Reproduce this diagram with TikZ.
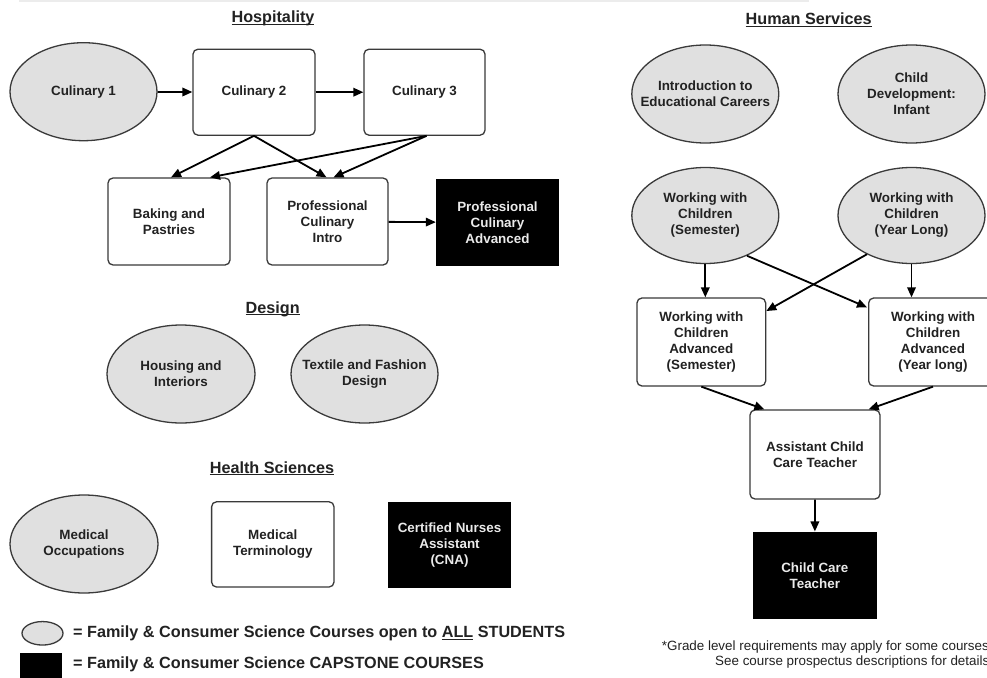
\documentclass[tikz,border=0pt]{standalone}
\usepackage{fontspec}
\setmainfont{Liberation Sans}
\usetikzlibrary{shapes.geometric,arrows.meta,calc}
\definecolor{edgecol}{HTML}{3A3A3A}
\definecolor{ellfill}{HTML}{E0E0E0}
\definecolor{txt}{HTML}{222222}
\definecolor{captxt}{HTML}{EAEAEA}
\newcommand\nodefont{\fontsize{13.4}{16}\selectfont\bfseries}
\newcommand\hdrfont{\fontsize{16.2}{19}\selectfont\bfseries}
\newcommand\footfont{\fontsize{13.4}{15}\selectfont}
\newcommand\ulx[1]{\underline{\smash{#1}}}
\begin{document}
\begin{tikzpicture}[x=1pt,y=-1pt,
 course/.style={ellipse, draw=edgecol, line width=1.3pt, fill=ellfill, inner sep=0pt},
 lbl/.style={font=\nodefont, text=txt, align=center, inner sep=0pt},
 box/.style={rectangle, rounded corners=5pt, draw=edgecol, line width=1.3pt, fill=white, font=\nodefont, text=txt, align=center, inner sep=0pt},
 capbox/.style={rectangle, fill=black, font=\nodefont, text=captxt, align=center, inner sep=0pt},
 hdr/.style={font=\hdrfont, text=txt, inner sep=0pt},
 legtxt/.style={font=\hdrfont, text=txt, anchor=west, inner sep=0pt},
 foot/.style={font=\footfont, text=txt, anchor=west, inner sep=0pt},
 arr/.style={draw=black, line width=1.8pt, -{Triangle[length=10pt,width=8.5pt]}},
]
\path[use as bounding box] (0,0) rectangle (987,677);
\clip (0,0) rectangle (987,677);
\fill[white] (0,0) rectangle (987,677);
\draw[gray!15, line width=1.5pt] (19,0.8) -- (809,0.8);

% ---------------- Hospitality ----------------
\node[hdr] (hhosp) at (273,24) {\ulx{Hospitality}};
\node[course, minimum width=147pt, minimum height=98pt, label={[lbl]center:{Culinary 1}}] (cul1) at (83.5,91.7) {};
\node[box, minimum width=122pt, minimum height=86pt] (cul2) at (254,92.2) {Culinary 2};
\node[box, minimum width=121pt, minimum height=86pt] (cul3) at (424.5,92.2) {Culinary 3};
\node[box, minimum width=122pt, minimum height=87pt] (bak) at (169,221.5) {Baking and\\Pastries};
\node[box, minimum width=121pt, minimum height=87pt] (intro) at (327.5,221.5) {Professional\\Culinary\\Intro};
\node[capbox, minimum width=123pt, minimum height=87pt] (adv) at (497.5,222.5) {Professional\\Culinary\\Advanced};

\draw[arr] (cul1) -- (cul2);
\draw[arr] (cul2) -- (cul3);
\draw[arr] (cul2.south) -- ([xshift=2pt]bak.north);
\draw[arr] (cul2.south) -- ([xshift=-1pt]intro.north);
\draw[arr] ([xshift=2pt]cul3.south) -- ([xshift=41pt]bak.north);
\draw[arr] ([xshift=2pt]cul3.south) -- ([xshift=6pt]intro.north);
\draw[arr] (intro) -- (adv);

% ---------------- Design ----------------
\node[hdr] (hdes) at (272.7,314) {\ulx{Design}};
\node[course, minimum width=148pt, minimum height=98pt, label={[lbl]center:{Housing and\\Interiors}}] (hous) at (181,374) {};
\node[course, minimum width=147pt, minimum height=98pt, label={[lbl]center:{Textile and Fashion\\Design}}] (text) at (364.5,374) {};

% ---------------- Health Sciences ----------------
\node[hdr] (hhea) at (272,474) {\ulx{Health Sciences}};
\node[course, minimum width=148pt, minimum height=98pt, label={[lbl]center:{Medical\\Occupations}}] (medocc) at (84,544) {};
\node[box, minimum width=122.4pt, minimum height=85.3pt] (medterm) at (272.8,544.4) {Medical\\Terminology};
\node[capbox, minimum width=123pt, minimum height=86pt] (cna) at (449.5,544.7) {Certified Nurses\\Assistant\\(CNA)};

% ---------------- Human Services ----------------
\node[hdr] (hhum) at (808.7,26) {\ulx{Human Services}};
\node[course, minimum width=147pt, minimum height=98pt, label={[lbl]center:{Introduction to\\Educational Careers}}] (ied) at (705.3,94) {};
\node[course, minimum width=147pt, minimum height=98pt, label={[lbl]center:{Child\\Development:\\Infant}}] (cdi) at (911.5,94) {};
\node[course, minimum width=147pt, minimum height=96pt, label={[lbl]center:{Working with\\Children\\(Semester)}}] (wsem) at (705.3,215.5) {};
\node[course, minimum width=147pt, minimum height=96pt, label={[lbl]center:{Working with\\Children\\(Year Long)}}] (wyl) at (911.5,215.5) {};
\node[box, minimum width=128.7pt, minimum height=88pt] (asem) at (701.3,342) {Working with\\Children\\Advanced\\(Semester)};
\node[box, minimum width=128.7pt, minimum height=88pt] (ayl) at (933,342) {Working with\\Children\\Advanced\\(Year long)};
\node[box, minimum width=130pt, minimum height=89pt] (asst) at (815,454.5) {Assistant Child\\Care Teacher};
\node[capbox, minimum width=123.7pt, minimum height=87.3pt] (cct) at (814.8,575.3) {Child Care\\Teacher};

\draw[arr] (wsem.south) -- (wsem.south |- asem.north);
\draw[arr] (wyl.south) -- (wyl.south |- ayl.north);
\draw[arr] (wsem.-44) -- ([xshift=-1pt,yshift=-10pt]ayl.north west);
\draw[arr] (wyl.221) -- ([yshift=-13.7pt]asem.north east);
\draw[arr] (asem.south) -- ([xshift=15pt]asst.north west);
\draw[arr] (ayl.south) -- ([xshift=-12pt]asst.north east);
\draw[arr] (asst) -- (cct);

% ---------------- Legend & footnote ----------------
\node[course, minimum width=41pt, minimum height=23.5pt] (legell) at (42.5,633.3) {};
\node[capbox, minimum width=42pt, minimum height=47pt] (legcap) at (41,676.2) {};
\node[legtxt] (leg1) at (73,633.3) {= Family \& Consumer Science Courses open to \ulx{ALL} STUDENTS};
\node[legtxt] (leg2) at (73,664.3) {= Family \& Consumer Science CAPSTONE COURSES};
\node[foot] (fn1) at (661.7,646.7) {*Grade level requirements may apply for some courses.};
\node[foot] (fn2) at (715,661.7) {See course prospectus descriptions for details.};
\end{tikzpicture}
\end{document}
